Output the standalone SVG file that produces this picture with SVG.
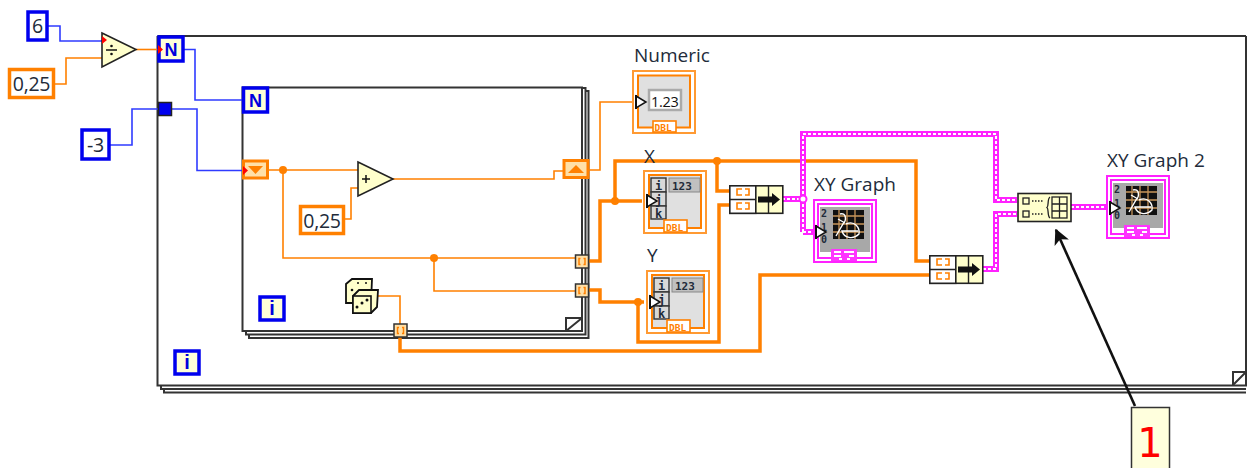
<svg xmlns="http://www.w3.org/2000/svg" width="1247" height="468" viewBox="0 0 1247 468">
<style>
text{font-family:"Open Sans","Noto Sans","Liberation Sans",sans-serif;fill:#222b3a}
.lbl{font-size:19px}
.const{font-size:19.500px;text-anchor:middle;letter-spacing:-0.300px}
.mono{font-family:"DejaVu Sans Mono","Liberation Mono",monospace;font-weight:bold}
.frame{fill:none;stroke:#333;stroke-width:2}
.thin{fill:none;stroke:#ff8000;stroke-width:1.6}
.thick{fill:none;stroke:#ff8000;stroke-width:3.5}
.blue{fill:none;stroke:#2f3bff;stroke-width:1.6}
.pinkA{fill:none;stroke:#ff22ff;stroke-width:6}
.pinkB{fill:none;stroke:#fff;stroke-width:2;stroke-dasharray:3 2}
.cb{fill:#fff;stroke:#0000ee;stroke-width:3.5}
.co{fill:#fff;stroke:#ff8000;stroke-width:3.5}
.fn{fill:#ffffcc;stroke:#222;stroke-width:1.6}
.term{fill:#ffffd8;stroke:#0000ee;stroke-width:3.5}
.n{font-size:18px;font-weight:bold;fill:#0000dd;text-anchor:middle;font-family:"Liberation Sans",sans-serif}
.oj{fill:#ff8000}
</style>
<defs>
<marker id="arw" viewBox="0 0 10 10" refX="9" refY="5" markerWidth="6" markerHeight="6" orient="auto"><path d="M0 0L10 5L0 10L2.500 5Z" fill="#111"/></marker>
<g id="inTri"><path d="M0 -6L10 0L0 6Z" fill="#fff" stroke="#111" stroke-width="1.5"/><path d="M0 -7V7" stroke="#111" stroke-width="2"/></g>
<g id="tun"><rect x="0" y="0" width="13" height="13" fill="#ffe0a8" stroke="#333" stroke-width="1.5"/><path d="M5 3.500H3.500V9.500H5M8 3.500H9.500V9.500H8" fill="none" stroke="#ff8000" stroke-width="1.5"/></g>
<g id="arr">
<rect x="1" y="1" width="62" height="62" fill="#fff" stroke="#ff9a33" stroke-width="2"/>
<rect x="6" y="5" width="52" height="53" fill="#e0e0e0" stroke="#ff8000" stroke-width="2"/>
<g fill="#d8d8d8" stroke="#333" stroke-width="1.4"><rect x="8" y="8" width="15" height="14"/><rect x="8" y="22" width="15" height="14"/><rect x="8" y="36" width="15" height="13"/></g>
<rect x="26" y="8" width="31" height="14" fill="#c0c0c0" stroke="#888" stroke-width="1"/>
<rect x="21" y="50" width="23" height="12" fill="#fff" stroke="#ff8000" stroke-width="1.6"/>
</g>
<g id="gr">
<rect x="1" y="1" width="62" height="62" fill="#fff" stroke="#ff22ff" stroke-width="2"/>
<rect x="5" y="5" width="54" height="54" fill="#fff" stroke="#ff22ff" stroke-width="2"/>
<rect x="7" y="8" width="50" height="45" fill="#a8a8a8"/>
<rect x="20" y="11" width="31" height="29" fill="#111"/>
<path d="M26 11V40M34 11V40M42 11V40M20 17H51M20 25H51M20 33H51" stroke="#c8955a" stroke-width="1.300"/>
<path d="M27 15C33 13 34 21 30 25L23 37M25 20L32 24M33 25C42 21 47 29 46 35C40 41 31 39 29 32H45" fill="none" stroke="#fff" stroke-width="1.400"/>
<rect x="18" y="50" width="26" height="12" fill="#ff33ff"/>
<path d="M21 53H28M31 53H41M21 57H28M36 57H41M26 60H29M34 60H37" stroke="#fff" stroke-width="2"/>
</g>
<g id="bun">
<rect x="0.800" y="0.800" width="53" height="27.500" fill="#ffffcc" stroke="#222" stroke-width="1.600"/>
<rect x="0.800" y="0.800" width="26" height="27.500" fill="#fff" stroke="#222" stroke-width="1.600"/>
<path d="M0.800 14.500H26.800M39.500 0.800V28.300" stroke="#222" stroke-width="1.400"/>
<path d="M13 4H8V10H13M16 4H20V10H16M13 18H8V24H13M16 18H20V24H16" fill="none" stroke="#ff8000" stroke-width="1.600"/>
<path d="M29 11.500H43V8L51 14.500L43 21V17.500H29Z" fill="#111"/>
</g>
</defs>
<rect width="1247" height="468" fill="#fff"/>
<g id="frames">
<path class="frame" d="M157.500 36H1246M157.500 36V385.500H1246V36"/>
<path class="frame" d="M161 385.500V389H1246M164 389V392.500H1246" stroke-width="1.500"/>
<path class="frame" d="M1233 385V372H1246M1233 385L1246 372" stroke-width="1.500"/>
<path class="frame" d="M242.500 87.500H582V331H242.500Z"/>
<path class="frame" d="M582 88H585.500V334.500H246V331M585.500 91H588.500V338H249V334.500" stroke-width="1.500"/>
<path class="frame" d="M566 331V318H582M566 331L582 318" stroke-width="1.500"/>
</g>
<g id="connectors">
<path class="blue" d="M47 26H60V41H102"/>
<path class="thin" d="M54 84H66V58H102"/>
<path class="thin" d="M136 49.500H158"/>
<path class="blue" d="M183 49.500H195V100H243"/>
<path class="blue" d="M110 145H132V109H158M171 109H197V170.500H243"/>
<path class="thin" d="M268 170H358M283 170V258H575M434 258V291H575"/>
<path class="thin" d="M344 219H351V188H358"/>
<path class="thin" d="M393 179H554V171H563"/>
<path class="thin" d="M588 170H600V102H636"/>
<path class="thin" d="M378 296H400V324"/>
<path class="thick" d="M588 261H600V201H642M615 201V161H916V261H929M717 161V191H730"/>
<path class="thick" d="M588 290H600V302H644M638 302V342H719V205H730"/>
<path class="thick" d="M400 337V351H760V275H929"/>
<path class="pinkA" d="M782 199H803M803 232H816M803 199V134H996V200H1017M983 269H996V214H1017M1071 207H1106M803 199V232"/>
<path class="pinkB" d="M782 199H803M803 232H816M803 199V134H996V200H1017M983 269H996V214H1017M1071 207H1106M803 199V232"/>
<g fill="#ff8000"><circle cx="283" cy="170" r="4"/><circle cx="434" cy="258" r="4"/><circle cx="615" cy="201" r="4"/><circle cx="717" cy="161" r="4"/><circle cx="638" cy="302" r="4"/></g>
<circle cx="803" cy="199" r="3.500" fill="#fff" stroke="#ff22ff" stroke-width="2"/>
</g>
<g id="const-6"><rect class="cb" x="28" y="12" width="19" height="28"/><text class="const" x="37.500" y="33">6</text></g>
<g id="const-025a"><rect class="co" x="9.500" y="69.500" width="44" height="28"/><text class="const" x="31.500" y="91">0,25</text></g>
<g id="const-m3"><rect class="cb" x="82" y="130" width="27" height="29"/><text class="const" x="95.500" y="152">-3</text></g>
<g id="divide"><path class="fn" d="M102 33L136 49.500L102 67Z"/><path d="M102 36L107 40L102 44Z" fill="#ff0000"/><path d="M106 50H117" stroke="#111" stroke-width="1.500"/><circle cx="111.500" cy="46" r="1.300" fill="#111"/><circle cx="111.500" cy="54" r="1.300" fill="#111"/></g>
<g id="N-outer"><rect class="term" x="159" y="37" width="24" height="24"/><text class="n" x="171" y="56">N</text><path d="M158 45L163 49.500L158 54Z" fill="#ff0000"/></g>
<g id="tunnel-blue"><rect x="158.500" y="102.500" width="13" height="13" fill="#0000ee" stroke="#222" stroke-width="1.500"/></g>
<g id="N-inner"><rect class="term" x="243.500" y="88" width="24" height="24"/><text class="n" x="255.500" y="107">N</text></g>
<g id="shift-left"><rect x="243.500" y="161" width="24" height="17" fill="#ffe0a8" stroke="#ff8000" stroke-width="3"/><path d="M248 166H263L255.500 174Z" fill="#ff8000"/><path d="M243 166L248 170.500L243 175Z" fill="#ff0000"/></g>
<g id="shift-right"><rect x="564" y="160.500" width="24" height="17" fill="#ffe0a8" stroke="#ff8000" stroke-width="3"/><path d="M568 173H584L576 165Z" fill="#ff8000"/></g>
<g id="add"><path class="fn" d="M358 162L393 179L358 196Z"/><path d="M362 179H370M366 175V183" stroke="#111" stroke-width="1.500"/></g>
<g id="const-025b"><rect class="co" x="300.500" y="206.500" width="43" height="27"/><text class="const" x="322" y="228">0,25</text></g>
<g id="i-inner"><rect class="term" x="260" y="297" width="24" height="23"/><text class="n" x="272" y="315" style="font-size:20px">i</text></g>
<g id="i-outer"><rect class="term" x="175" y="351" width="24" height="23"/><text class="n" x="187" y="369" style="font-size:20px">i</text></g>
<g id="dice">
<path d="M346 284L352 279H372L371 303H346Z" fill="#ffffcc" stroke="#111" stroke-width="1.800"/>
<path d="M353 296L359 290H378L377 307L371 313H353Z" fill="#ffffcc" stroke="#111" stroke-width="1.800"/>
<rect x="353" y="296" width="18" height="17" fill="#ffffcc" stroke="#111" stroke-width="1.600"/>
<g fill="#111"><circle cx="357" cy="307" r="1.500"/><circle cx="362" cy="303" r="1.500"/><circle cx="367" cy="300" r="1.500"/><circle cx="352" cy="290" r="1.300"/><circle cx="358" cy="283" r="1"/><circle cx="366" cy="283" r="1"/></g>
</g>
<use id="tun-x" href="#tun" x="575.500" y="255"/>
<use id="tun-y" href="#tun" x="575.500" y="284"/>
<use id="tun-d" href="#tun" x="394" y="324"/>
<g id="numeric">
<rect x="633" y="71" width="62" height="62" fill="#fff" stroke="#ff9a33" stroke-width="2"/>
<rect x="638" y="75.500" width="52" height="52" fill="#e0e0e0" stroke="#ff8000" stroke-width="2"/>
<rect x="649" y="90" width="32" height="20" fill="#fff" stroke="#aaa" stroke-width="2.500"/>
<text x="651" y="106.500" style="font-size:14.500px;fill:#111;letter-spacing:-0.300px">1.23</text>
<rect x="653" y="121" width="23" height="11" fill="#fff" stroke="#ff8000" stroke-width="1.600"/>
<text class="mono" x="654.500" y="131" style="font-size:9.500px;fill:#ff8000">DBL</text>
<use href="#inTri" x="636" y="102"/>
<text class="lbl" x="634" y="62">Numeric</text>
</g>
<g id="X">
<use href="#arr" x="643" y="170"/>
<text class="mono" x="655" y="190" style="font-size:12px">i</text><text class="mono" x="655" y="204" style="font-size:12px">j</text><text class="mono" x="655" y="218" style="font-size:12px">k</text><text class="mono" x="672" y="190" style="font-size:11px">123</text>
<text class="mono" x="666" y="231" style="font-size:9.500px;fill:#ff8000">DBL</text>
<use href="#inTri" x="647" y="201"/>
<text class="lbl" x="644" y="163">X</text>
</g>
<g id="Y">
<use href="#arr" x="646" y="270"/>
<text class="mono" x="658" y="290" style="font-size:12px">i</text><text class="mono" x="658" y="304" style="font-size:12px">j</text><text class="mono" x="658" y="318" style="font-size:12px">k</text><text class="mono" x="675" y="290" style="font-size:11px">123</text>
<text class="mono" x="669" y="331" style="font-size:9.500px;fill:#ff8000">DBL</text>
<use href="#inTri" x="650" y="302"/>
<text class="lbl" x="647" y="262">Y</text>
</g>
<use id="bundle-1" href="#bun" x="729" y="185"/>
<use id="bundle-2" href="#bun" x="929" y="255"/>
<g id="xy-graph">
<use href="#gr" x="813" y="199"/>
<text class="mono" x="821" y="217" style="font-size:10px">2</text><text class="mono" x="821" y="231" style="font-size:10px">1</text><text class="mono" x="821" y="243" style="font-size:10px">0</text>
<use href="#inTri" x="816" y="232"/>
<text class="lbl" x="814" y="191">XY Graph</text>
</g>
<g id="build-xy">
<rect x="1018" y="193.500" width="53" height="28" fill="#ffffcc" stroke="#222" stroke-width="1.600"/>
<g fill="none" stroke="#222" stroke-width="1.300"><rect x="1023" y="198" width="6" height="6"/><rect x="1023" y="211" width="6" height="6"/><path d="M1032 201H1043M1032 214H1043" stroke-dasharray="1.500 1.500"/><path d="M1050 197C1047 199 1049 206 1047 207.500C1049 209 1047 216 1050 218"/><rect x="1052" y="197" width="15" height="21"/><path d="M1059.500 197V218M1052 204H1067M1052 211H1067"/></g>
</g>
<g id="xy-graph-2">
<use href="#gr" x="1106" y="175"/>
<text class="mono" x="1114" y="193" style="font-size:10px">2</text><text class="mono" x="1114" y="207" style="font-size:10px">1</text><text class="mono" x="1114" y="219" style="font-size:10px">0</text>
<use href="#inTri" x="1110" y="208"/>
<text class="lbl" x="1107" y="167">XY Graph 2</text>
</g>
<g id="annotation">
<path d="M1135 406L1056 230" stroke="#111" stroke-width="2.600" marker-end="url(#arw)"/>
<rect x="1131.500" y="407.500" width="38" height="62" fill="#ffffdd" stroke="#333" stroke-width="1.500"/>
<text x="1150" y="457" text-anchor="middle" style="font-size:40px;fill:#ff0000;font-family:'DejaVu Sans',sans-serif">1</text>
</g>
</svg>
